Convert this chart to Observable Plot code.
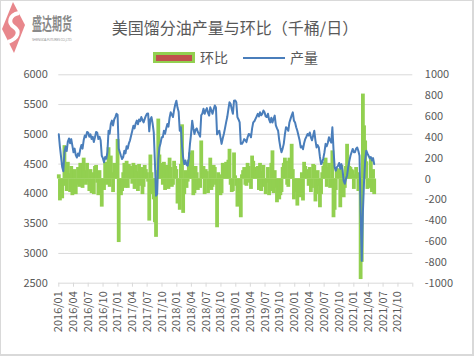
<!DOCTYPE html>
<html>
<head>
<meta charset="utf-8">
<script src="https://cdn.jsdelivr.net/npm/d3@7"></script>
<script src="https://cdn.jsdelivr.net/npm/@observablehq/plot@0.6"></script>
<style>
  html, body { margin: 0; padding: 0; background: #fff; }
  #c { position: relative; width: 474px; height: 356px; background: #fff; overflow: hidden;
       font-family: "Noto Sans CJK SC", "Noto Sans", sans-serif; color: #595959; }
  #c svg.plot { position: absolute; left: 0; top: 0; }
  .abs { position: absolute; white-space: nowrap; line-height: 1; }
</style>
</head>
<body>
<div id="c">
  <svg width="80" height="56" style="position:absolute;left:0;top:0">
    <path d="M13 2 L25 25 L14 53 L2 29 Z" fill="#E8878C"/>
    <path d="M19 13 C 9 15, 8 23, 14 27 C 20 31, 19 38, 8 42" stroke="#fff" stroke-width="4" fill="none"/>
    <text transform="translate(32,30) scale(1,1.75)" font-size="10" font-weight="bold" fill="#8a8a8a" textLength="40" font-family="Noto Sans CJK SC">盛达期货</text>
    <text x="32" y="41" font-size="3.5" fill="#9a9a9a" textLength="40" font-family="Noto Sans">SHENGDA FUTURES CO.,LTD.</text>
  </svg>
  <div class="abs" id="title" style="left:0;width:470px;text-align:center;top:19px;font-size:16px;">美国馏分油产量与环比（千桶/日）</div>
  <div class="abs" style="left:153px;top:52px;width:42px;height:11px;background:#92D050;"></div>
  <div class="abs" style="left:156px;top:54.5px;width:36px;height:6px;background:#C0504D;"></div>
  <div class="abs" style="left:200px;top:50px;font-size:14px;">环比</div>
  <div class="abs" style="left:243px;top:56.5px;width:42px;height:2px;background:#4A7EBB;"></div>
  <div class="abs" style="left:290px;top:50px;font-size:14px;">产量</div>
  <div style="position:absolute;left:0;top:0;width:474px;height:356px;box-sizing:border-box;border:1px solid #D9D9D9;border-right-width:2px;border-bottom-width:2px;pointer-events:none;"></div>
</div>
<script>
// Weekly series, first week ending 2016-01-01
const firstWeek = "2016-01-01";

// 产量 (千桶/日), left axis
const production = [
  5000,4790,4620,4450,4380,4700,4790,4720,4880,4930,
  4850,4920,4810,4700,4760,4650,4610,4680,4640,4750,
  4820,4760,4900,4980,4950,5040,5030,4960,5000,4920,
  4960,4870,4950,5040,5030,4920,4960,4900,4640,4600,
  4530,4620,4590,4700,5060,5010,5175,5230,5150,5250,
  5290,5345,5330,4760,4700,4640,4585,4620,4725,4680,
  4800,4760,4850,4900,4980,5060,5145,5100,5180,5230,
  5170,5250,5220,5290,5240,5200,5260,5310,5345,5350,
  5050,5250,5290,5180,5035,4540,3970,4000,4575,4780,
  4850,4950,4950,5060,5010,5100,5175,5130,5280,5370,
  5330,5290,5410,5500,5565,5450,5380,5060,5120,4800,
  4610,4500,4560,4490,4475,4600,4830,5005,5230,5100,
  5005,5080,5100,5040,5005,4960,5320,5350,5430,5345,
  5400,5440,5360,5315,5455,5400,5345,5420,5485,5450,
  5000,5040,5060,4950,4840,4930,5005,5100,5200,5290,
  5420,5540,5510,5420,5345,5565,5570,5540,5290,5250,
  5200,4840,4840,4870,4920,4900,4870,4950,5005,5000,
  4950,5100,5200,5220,5260,5300,5345,5300,5370,5320,
  5345,5400,5370,5300,5290,5345,5250,5200,5280,5200,
  5260,5315,5150,5100,5060,4900,4780,4700,4760,4840,
  5000,5120,5100,5060,5200,5260,5320,5370,5230,5200,
  5120,5060,4980,4900,4780,4800,4750,4850,4920,4960,
  5005,4980,5030,4950,4900,4980,5060,4900,4780,4820,
  4780,4620,4500,4530,4600,4700,4840,4800,4860,4950,
  4900,4860,5120,4750,4450,4390,4450,4470,4520,4420,
  4500,4400,4220,4170,4250,4310,4445,4550,4640,4700,
  4755,4700,4700,4760,4780,4720,4640,3680,2875,3690,
  4200,4560,4725,4680,4640,4600,4620,4560,4600,4500
];

// 环比 (千桶/日), right axis
const change = [
  40,-210,-170,-190,-70,320,90,-120,160,50,
  -130,120,-160,-110,90,-150,-60,110,-80,150,
  120,-90,200,80,-60,150,-30,-120,90,-140,
  60,-150,120,130,-40,-160,80,-90,-270,-60,
  -110,160,-60,140,300,-80,220,60,-130,150,
  70,90,380,-610,-110,-160,-120,60,150,-90,
  170,-90,140,60,120,-50,150,-100,130,70,
  -120,140,-70,110,-150,-80,130,90,60,-30,
  -404,230,60,-150,-200,-420,-560,80,575,230,
  120,150,-60,160,-110,130,90,-100,200,110,
  -80,-60,170,120,90,-240,-120,-300,140,520,
  -330,-150,80,-90,-30,180,250,200,270,-160,
  -140,120,60,-110,-60,-90,365,50,120,-150,
  90,70,-140,-90,200,-110,-80,130,110,-60,
  -468,60,40,-160,-140,150,110,140,160,120,
  180,285,-60,-130,-120,250,30,-70,-270,-90,
  -110,-372,40,80,110,-60,-70,150,120,-40,
  -100,220,170,60,110,80,120,-110,150,-120,
  70,130,-80,-150,-40,110,-160,-120,150,270,
  -140,80,-90,-228,-80,-200,-160,-130,110,150,
  200,170,-60,-80,200,110,333,90,-200,-60,
  -130,-260,-150,-150,-180,60,-211,160,120,80,
  90,-70,110,-130,-90,140,130,-220,-150,80,
  -70,-276,-150,60,120,160,200,-80,110,150,
  -90,-70,270,-372,-300,-110,100,60,90,-276,
  130,-160,-180,-90,120,333,150,120,110,90,
  80,-100,40,110,60,-120,-80,-965,-800,815,
  510,365,165,-100,-60,-90,200,-130,90,-150
];

const xTickLabels = ["2016/01","2016/04","2016/07","2016/10","2017/01","2017/04","2017/07","2017/10",
  "2018/01","2018/04","2018/07","2018/10","2019/01","2019/04","2019/07","2019/10",
  "2020/01","2020/04","2020/07","2020/10","2021/01","2021/04","2021/07","2021/10"];
const xAxisEnd = "2022/01";
const leftTicks = [2500,3000,3500,4000,4500,5000,5500,6000];
const rightTicks = [-1000,-800,-600,-400,-200,0,200,400,600,800,1000];

// dual-axis mapping: right [-1000,1000] onto left [2500,6000]
const leftMin = 2500, leftMax = 6000, rightMin = -1000, rightMax = 1000;
const k = (leftMax - leftMin) / (rightMax - rightMin);
const toLeft = v => leftMin + (v - rightMin) * k;

const parseYM = d3.utcParse("%Y/%m");
const t0 = d3.utcParse("%Y-%m-%d")(firstWeek);
const table = production.map((p, i) => ({
  date: d3.utcDay.offset(t0, 7 * i),
  prod: p,
  chg: change[i]
}));
const labelDates = xTickLabels.map(parseYM);
const allTickDates = [...labelDates, parseYM(xAxisEnd)];

const chart = Plot.plot({
  width: 474,
  height: 356,
  marginLeft: 58.3,
  marginRight: 61.7,
  marginTop: 74.3,
  marginBottom: 73.3,
  style: { fontFamily: "Noto Sans CJK SC, Noto Sans, sans-serif", fontSize: "11px", color: "#595959", background: "transparent" },
  x: { type: "utc", domain: [labelDates[0], parseYM(xAxisEnd)] },
  y: { domain: [leftMin, leftMax] },
  marks: [
    Plot.gridY(leftTicks, { stroke: "#D9D9D9", strokeOpacity: 1, strokeWidth: 1 }),
    Plot.axisX({ ticks: allTickDates, tickSize: 4, tickFormat: () => "", stroke: "#D9D9D9", strokeOpacity: 1, label: null }),
    Plot.axisX({ ticks: labelDates, tickSize: 0, tickPadding: 8, tickRotate: -90, tickFormat: d3.utcFormat("%Y/%m"), label: null }),
    Plot.axisY({ anchor: "left", ticks: leftTicks, tickSize: 0, tickPadding: 11, label: null, tickFormat: d => String(d) }),
    Plot.axisY({ anchor: "right", ticks: rightTicks.map(toLeft), tickSize: 0, tickPadding: 12, label: null,
      tickFormat: d => String(Math.round((d - leftMin) / k + rightMin)) }),
    Plot.ruleX(table, { x: "date", y1: toLeft(0), y2: d => toLeft(d.chg), stroke: "#92D050", strokeWidth: 3.8 }),
    Plot.line(table, { x: "date", y: "prod", stroke: "#4A7EBB", strokeWidth: 2 })
  ]
});
chart.classList.add("plot");
document.getElementById("c").insertBefore(chart, document.getElementById("c").firstChild);
</script>
</body>
</html>
